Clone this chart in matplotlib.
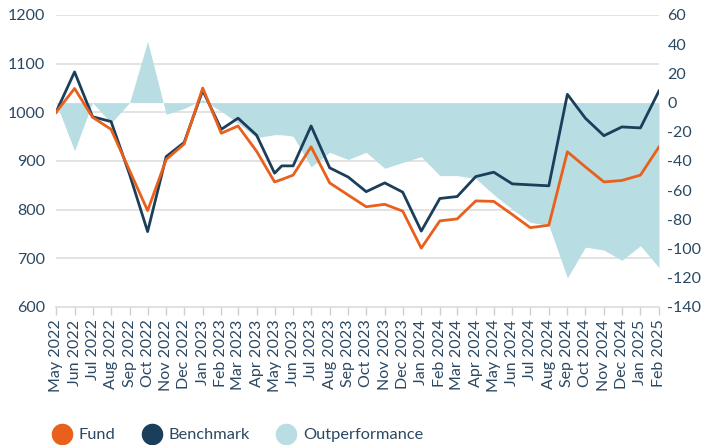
import numpy as np
import pandas as pd
import matplotlib
matplotlib.use("Agg")
import matplotlib.pyplot as plt
import matplotlib.dates as mdates
from matplotlib.lines import Line2D

plt.rcParams['font.family'] = ['Lato', 'DejaVu Sans']
plt.rcParams['axes.unicode_minus'] = False

# data points (first of month, plus one mid-May 2023 point)
dates = list(pd.date_range("2022-05-01", "2025-02-01", freq="MS"))
dates.insert(13, pd.Timestamp("2023-05-13"))

fund = [1000, 1049, 990, 965, 880, 798, 903, 935, 1050, 957, 972, 920,
        857, 862, 871, 929, 855, 830, 806, 811, 797, 721, 777, 781, 818,
        817, 790, 763, 768, 919, 888, 857, 860, 871, 929]
benchmark = [1000, 1083, 991, 981, 872, 755, 909, 938, 1045, 965, 988, 953,
             875, 890, 890, 972, 886, 867, 837, 855, 836, 756, 823, 827, 868,
             877, 853, 851, 849, 1037, 988, 952, 970, 968, 1044]
outperformance = [0, -33, 0, -14, 0, 42, -8, -4, 2, -6, -14, -24,
                  -22, -22, -23, -44, -34, -39, -34, -45, -41, -37, -50, -50, -52,
                  -63, -73, -82, -84, -120, -99, -101, -108, -98, -113]

tick_dates = pd.date_range("2022-05-01", "2025-02-01", freq="MS")

c_fund = "#e8601c"
c_bench = "#1b3f5b"
c_out = "#b8dde2"
c_text = "#2b4862"
c_grid = "#e0e0e0"

fig = plt.figure(figsize=(7.02, 4.45), dpi=100)
ax = fig.add_axes([56 / 702, 1 - 307 / 445, 603 / 702, 292 / 445])
ax2 = ax.twinx()

ax.set_ylim(600, 1200)
ax2.set_ylim(-140, 60)
ax.set_xlim(tick_dates[0], tick_dates[-1])

# fill on the left axes but in right-axis coordinates, so it sits above the grid
ax.fill_between(dates, 0, outperformance, color=c_out, lw=0,
                transform=ax2.transData, zorder=1)
ax.plot(dates, benchmark, color=c_bench, lw=2.0, zorder=3)
ax.plot(dates, fund, color=c_fund, lw=2.0, zorder=4)
ax.set_ylim(600, 1200)

ax.set_yticks(np.arange(600, 1201, 100))
ax2.set_yticks(np.arange(-140, 61, 20))
ax.grid(axis='y', color=c_grid, lw=1.3)
ax.set_axisbelow(True)

ax.set_xticks(tick_dates)
ax.xaxis.set_major_formatter(mdates.DateFormatter("%b %Y"))
plt.setp(ax.get_xticklabels(), rotation=90)

for a in (ax, ax2):
    for s in a.spines.values():
        s.set_visible(False)
    a.tick_params(labelsize=11.5, labelcolor=c_text)
ax.spines['bottom'].set_visible(True)
ax.spines['bottom'].set_color(c_grid)
ax.spines['bottom'].set_linewidth(1.3)
ax.tick_params(axis='y', length=0, pad=8)
ax2.tick_params(axis='y', length=0, pad=6)
ax.tick_params(axis='x', length=6, color="#cfcfcf", width=1, pad=3)

handles = [Line2D([], [], ls='', marker='o', ms=14.5, color=c_fund),
           Line2D([], [], ls='', marker='o', ms=14.5, color=c_bench),
           Line2D([], [], ls='', marker='o', ms=14.5, color=c_out)]
fig.legend(handles, ["Fund", "Benchmark", "Outperformance"], loc='center left',
           bbox_to_anchor=(37 / 702, 10 / 445), ncol=3, frameon=False,
           fontsize=11.8, labelcolor=c_text, handlelength=1.2,
           handletextpad=0.45, columnspacing=1.6)

fig.savefig("out.png", dpi=100)
